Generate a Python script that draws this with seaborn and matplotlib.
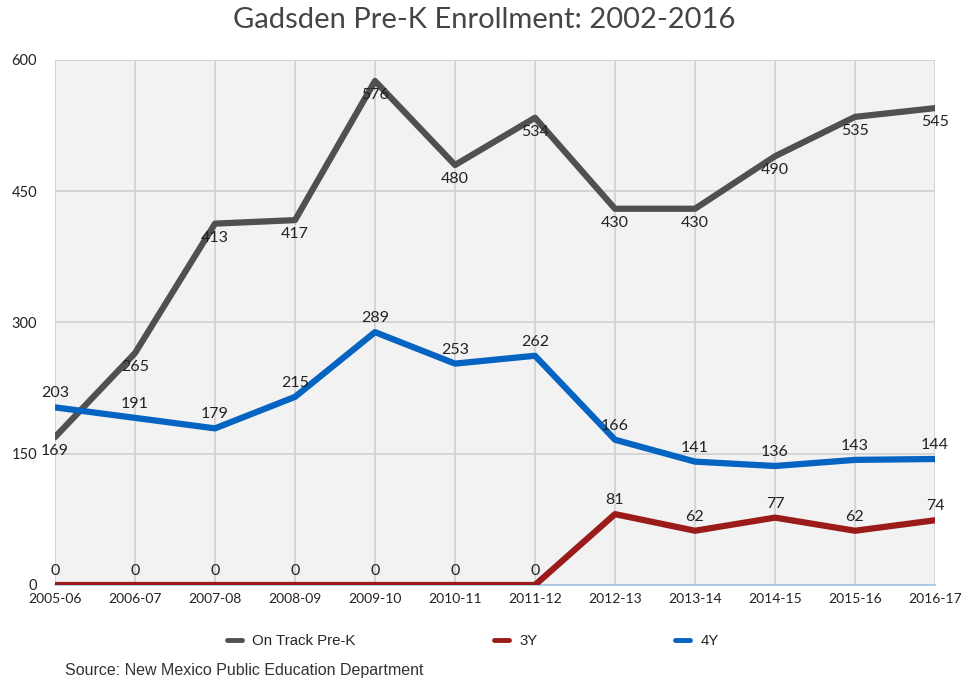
import numpy as np
import pandas as pd
import matplotlib
matplotlib.use("Agg")
import matplotlib.pyplot as plt
import seaborn as sns

years = ["2005-06", "2006-07", "2007-08", "2008-09", "2009-10", "2010-11",
         "2011-12", "2012-13", "2013-14", "2014-15", "2015-16", "2016-17"]
on_track = [169, 265, 413, 417, 576, 480, 534, 430, 430, 490, 535, 545]
three_y = [0, 0, 0, 0, 0, 0, 0, 81, 62, 77, 62, 74]
four_y = [203, 191, 179, 215, 289, 253, 262, 166, 141, 136, 143, 144]

series = ["On Track Pre-K", "3Y", "4Y"]
colors = {"On Track Pre-K": "#505050", "3Y": "#9b1b1b", "4Y": "#0563c1"}

df = pd.concat([
    pd.DataFrame({"pos": range(len(years)), "value": vals, "series": name})
    for name, vals in zip(series, [on_track, three_y, four_y])
])

sns.set_style("white")
plt.rcParams["font.family"] = ["Lato", "DejaVu Sans"]

fig = plt.figure(figsize=(9.69, 6.81), dpi=100)
ax = fig.add_axes([55 / 969, 1 - 585 / 681, 880 / 969, 525 / 681])
ax.set_facecolor("#f2f2f2")

sns.lineplot(data=df, x="pos", y="value", hue="series", hue_order=series,
             palette=colors, linewidth=4.5, ax=ax, legend=False, zorder=3)

ax.set_xlim(0, len(years) - 1)
ax.set_ylim(0, 600)
ax.set_xticks(range(len(years)))
ax.set_xticklabels(years, fontsize=10, color="#222222")
ax.set_yticks([0, 150, 300, 450, 600])
ax.set_yticklabels(["0", "150", "300", "450", "600"], fontsize=10.5, color="#222222")
ax.tick_params(axis="y", length=0, pad=13)
ax.tick_params(axis="x", length=0, pad=6)
ax.grid(True, color="#d0d0d0", linewidth=1.2, zorder=0)
ax.set_axisbelow(True)
ax.set_xlabel("")
ax.set_ylabel("")
for side in ["left", "right", "top"]:
    ax.spines[side].set_visible(False)
ax.spines["bottom"].set_color("#9dc3e6")
ax.spines["bottom"].set_linewidth(1.2)

# data labels: gray below the line, blue and red above
for vals, dy in [(on_track, -10), (four_y, 10), (three_y, 10)]:
    for i, v in enumerate(vals):
        ax.annotate(str(v), (i, v), xytext=(0, dy), textcoords="offset points",
                    ha="center", va="center", fontsize=11.5, color="#222222",
                    zorder=5)

fig.text(0.5, 1 - 20 / 681, "Gadsden Pre-K Enrollment: 2002-2016", ha="center",
         va="center", fontsize=21, color="#454545")

handles = [plt.Line2D([0], [0], color=colors[s], linewidth=3.5) for s in series]
fig.legend(handles, series, loc="center", bbox_to_anchor=(473 / 969, 1 - 641 / 681),
           ncol=3, frameon=False, handlelength=1.0, handletextpad=0.7,
           columnspacing=9.2, prop={"family": "Liberation Sans", "size": 10.8})

fig.text(65 / 969, 1 - 670 / 681, "Source: New Mexico Public Education Department",
         ha="left", va="center", fontsize=11.5, color="#333333",
         family="Liberation Sans")

fig.savefig("out.png", dpi=100)
